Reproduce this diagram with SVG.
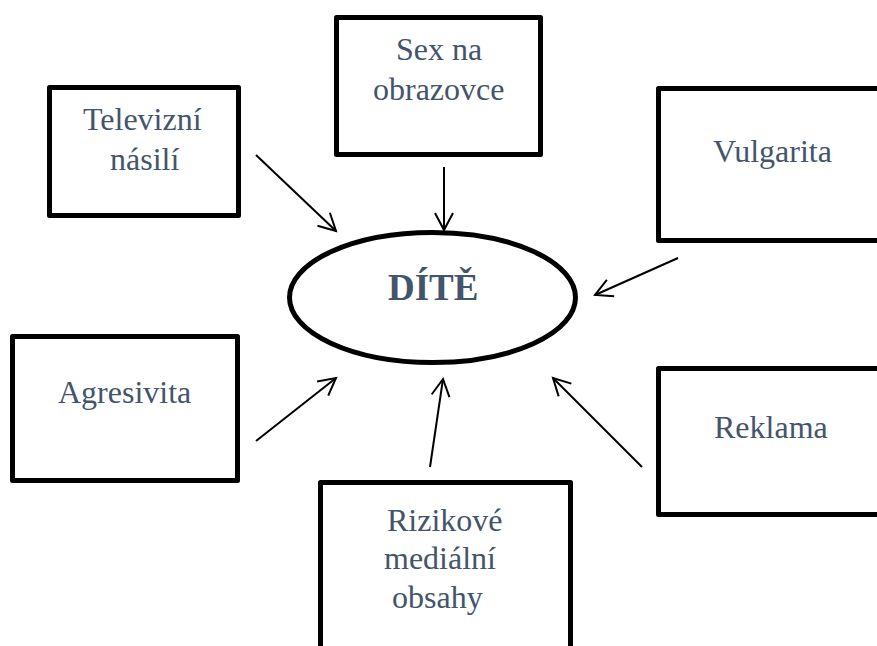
<svg xmlns="http://www.w3.org/2000/svg" width="877" height="646" viewBox="0 0 877 646">
<style>
.box{fill:#fff;stroke:#000;stroke-width:5;stroke-linejoin:round}
.t{font-family:"Liberation Serif","Times New Roman",serif;font-size:32px;fill:#44546A}
.b{font-family:"Liberation Serif","Times New Roman",serif;font-size:37px;font-weight:bold;fill:#44546A}
.c{stroke:#000;stroke-width:2;fill:none}
</style>
<defs>
<marker id="ah" markerUnits="userSpaceOnUse" markerWidth="24" markerHeight="24" refX="18" refY="10" orient="auto">
<path d="M1,1 L18,10 L1,19" fill="none" stroke="#000" stroke-width="2"/>
</marker>
</defs>
<rect width="877" height="646" fill="#fff"/>
<g id="connectors">
<line class="c" x1="444" y1="167" x2="444" y2="230" marker-end="url(#ah)"/>
<line class="c" x1="256" y1="155" x2="336" y2="231" marker-end="url(#ah)"/>
<line class="c" x1="678" y1="258" x2="595" y2="295" marker-end="url(#ah)"/>
<line class="c" x1="256" y1="441" x2="336" y2="378" marker-end="url(#ah)"/>
<line class="c" x1="642" y1="467" x2="553" y2="378" marker-end="url(#ah)"/>
<line class="c" x1="430" y1="467" x2="443" y2="379" marker-end="url(#ah)"/>
</g>
<g id="node-dite">
<ellipse cx="432.5" cy="297.5" rx="143" ry="65" fill="#fff" stroke="#000" stroke-width="5"/>
<text class="b" x="388" y="300">DÍTĚ</text>
</g>
<g id="node-televizni">
<rect class="box" x="49.5" y="87.5" width="189" height="128"/>
<text class="t" x="83" y="130">Televizní</text>
<text class="t" x="110" y="170">násilí</text>
</g>
<g id="node-sex">
<rect class="box" x="336.5" y="17.5" width="204" height="137"/>
<text class="t" x="396" y="60">Sex na</text>
<text class="t" x="373" y="100">obrazovce</text>
</g>
<g id="node-vulgarita">
<rect class="box" x="658.5" y="88.5" width="240" height="152"/>
<text class="t" x="713" y="162">Vulgarita</text>
</g>
<g id="node-agresivita">
<rect class="box" x="12.5" y="336.5" width="225" height="144"/>
<text class="t" x="58" y="403">Agresivita</text>
</g>
<g id="node-reklama">
<rect class="box" x="658.5" y="368.5" width="240" height="146"/>
<text class="t" x="714" y="438">Reklama</text>
</g>
<g id="node-rizikove">
<rect class="box" x="320.5" y="482.5" width="250" height="200"/>
<text class="t" x="387" y="531">Rizikové</text>
<text class="t" x="384" y="569">mediální</text>
<text class="t" x="392" y="608">obsahy</text>
</g>
</svg>
